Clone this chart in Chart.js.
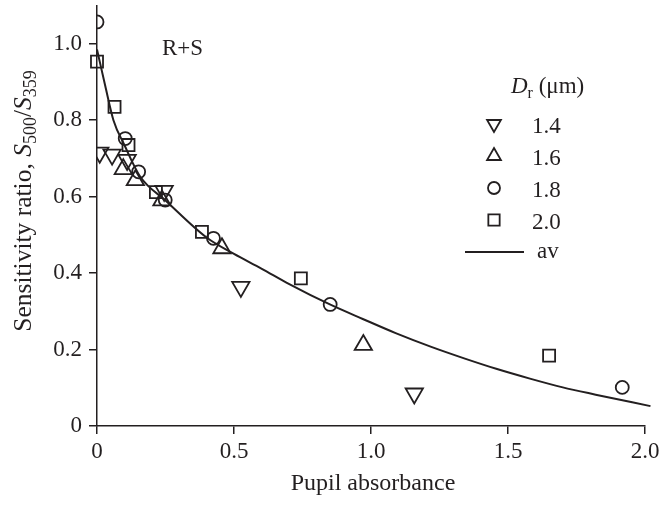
<!DOCTYPE html>
<html>
<head>
<meta charset="utf-8">
<script src="https://cdn.jsdelivr.net/npm/chart.js@4/dist/chart.umd.min.js"></script>
<style>
  html, body { margin: 0; padding: 0; background: #fff; }
  #wrap { width: 662px; height: 505px; }
</style>
</head>
<body>
<div id="wrap"><canvas id="chart" width="662" height="505"></canvas></div>
<script>
// values
const xTicks = [0, 0.5, 1.0, 1.5, 2.0];
const yTicks = [0, 0.2, 0.4, 0.6, 0.8, 1.0];

const d14x = [0.01, 0.055, 0.11, 0.245, 0.525, 1.158];
const d14y = [0.715, 0.71, 0.696, 0.615, 0.364, 0.085];

const d16x = [0.096, 0.14, 0.237, 0.456, 0.972];
const d16y = [0.672, 0.643, 0.59, 0.465, 0.212];

const d18x = [0, 0.103, 0.152, 0.249, 0.425, 0.851, 1.917];
const d18y = [1.057, 0.752, 0.665, 0.591, 0.491, 0.318, 0.101];

const d20x = [0, 0.064, 0.115, 0.215, 0.383, 0.744, 1.65];
const d20y = [0.953, 0.835, 0.735, 0.612, 0.508, 0.386, 0.184];

const avX = [0, 0.03, 0.06, 0.1, 0.158, 0.25, 0.4, 0.5, 0.6, 0.7, 0.85, 0.97, 1.09, 1.22, 1.34, 1.46, 1.58, 1.70, 1.82, 2.02];
const avY = [0.985, 0.89, 0.80, 0.735, 0.652, 0.59, 0.493, 0.45, 0.412, 0.372, 0.318, 0.28, 0.243, 0.207, 0.177, 0.149, 0.124, 0.101, 0.082, 0.052];

const ink = '#231f20';
const serif = '"Liberation Serif", "DejaVu Serif", serif';

function pts(xs, ys) {
    return xs.map((x, i) => ({ x: x, y: ys[i] }));
}

function markerSet(xs, ys, style, radius, rotation, clip) {
    return {
        data: pts(xs, ys),
        showLine: false,
        pointStyle: style,
        pointRadius: radius,
        pointRotation: rotation,
        pointBorderWidth: 1.8,
        pointBorderColor: ink,
        pointBackgroundColor: 'rgba(0,0,0,0)',
        clip: clip
    };
}

// extra text: panel label, legend, axis titles
const textPlugin = {
    id: 'texts',
    afterDraw(chart) {
        const ctx = chart.ctx;
        ctx.save();
        ctx.fillStyle = ink;
        ctx.strokeStyle = ink;

        // panel label
        ctx.font = '23px ' + serif;
        ctx.textBaseline = 'alphabetic';
        ctx.textAlign = 'left';
        ctx.fillText('R+S', 162, 55);

        // legend header
        ctx.font = 'italic 23px ' + serif;
        ctx.fillText('D', 511, 93);
        let w = ctx.measureText('D').width;
        ctx.font = '16px ' + serif;
        ctx.fillText('r', 511 + w, 98);
        let w2 = ctx.measureText('r').width;
        ctx.font = '23px ' + serif;
        ctx.fillText(' (\u03bcm)', 511 + w + w2, 93);

        // legend rows
        const rows = [
            { style: 'triangle', rot: 180, r: 8, label: '1.4', y: 124 },
            { style: 'triangle', rot: 0, r: 8, label: '1.6', y: 156 },
            { style: 'circle', rot: 0, r: 6, label: '1.8', y: 188 },
            { style: 'rect', rot: 0, r: 8, label: '2.0', y: 220 }
        ];
        ctx.textBaseline = 'middle';
        rows.forEach(row => {
            ctx.fillStyle = 'rgba(0,0,0,0)';
            Chart.helpers.drawPoint(ctx, {
                pointStyle: row.style,
                rotation: row.rot,
                radius: row.r,
                borderWidth: 2.4
            }, 494, row.y);
            ctx.fillStyle = ink;
            ctx.fillText(row.label, 532, row.y + 3);
        });

        // line entry
        ctx.lineWidth = 2;
        ctx.beginPath();
        ctx.moveTo(465, 252);
        ctx.lineTo(524, 252);
        ctx.stroke();
        ctx.fillText('av', 537, 252);

        // x title
        ctx.font = '24px ' + serif;
        ctx.textAlign = 'center';
        ctx.textBaseline = 'alphabetic';
        ctx.fillText('Pupil absorbance', 373, 490);

        // y title, rotated, with italic S and subscripts
        const parts = [
            ['Sensitivity ratio, ', '25.5px ', 0],
            ['S', 'italic 25.5px ', 0],
            ['500', '18px ', 5],
            ['/', '25.5px ', 0],
            ['S', 'italic 25.5px ', 0],
            ['359', '18px ', 5]
        ];
        let total = 0;
        parts.forEach(p => {
            ctx.font = p[1] + serif;
            total += ctx.measureText(p[0]).width;
        });
        ctx.translate(31, 201);
        ctx.rotate(-Math.PI / 2);
        ctx.textAlign = 'left';
        let cx = -total / 2;
        parts.forEach(p => {
            ctx.font = p[1] + serif;
            ctx.fillText(p[0], cx, p[2]);
            cx += ctx.measureText(p[0]).width;
        });
        ctx.restore();
    }
};

const ctx = document.getElementById('chart').getContext('2d');
const chart = new Chart(ctx, {
    type: 'scatter',
    data: {
        datasets: [
            {
                data: pts(avX, avY),
                showLine: true,
                borderColor: ink,
                borderWidth: 2,
                pointRadius: 0,
                cubicInterpolationMode: 'monotone',
                clip: false
            },
            markerSet(d14x, d14y, 'triangle', 10, 180, { left: 0, top: false, right: false, bottom: false }),
            markerSet(d16x, d16y, 'triangle', 10, 0, false),
            markerSet(d18x, d18y, 'circle', 6.5, 0, { left: 0, top: false, right: false, bottom: false }),
            markerSet(d20x, d20y, 'rect', 8.5, 0, false)
        ]
    },
    options: {
        responsive: false,
        animation: false,
        events: [],
        layout: { autoPadding: false, padding: { left: 0, right: 17, top: 5.5, bottom: 0 } },
        plugins: {
            legend: { display: false },
            tooltip: { enabled: false }
        },
        scales: {
            x: {
                type: 'linear',
                min: 0,
                max: 2.0,
                afterBuildTicks: axis => { axis.ticks = xTicks.map(v => ({ value: v })); },
                afterFit: axis => {
                    axis.height = 79;
                    axis.paddingLeft = 0;
                    axis.paddingRight = 0;
                },
                border: { display: true, color: ink, width: 1.5 },
                grid: { drawOnChartArea: false, drawTicks: true, tickLength: 8, color: ink, lineWidth: 1.5 },
                ticks: {
                    color: ink,
                    font: { family: serif, size: 23 },
                    padding: 4,
                    maxRotation: 0,
                    callback: v => v === 0 ? '0' : v.toFixed(1)
                }
            },
            y: {
                type: 'linear',
                min: 0,
                max: 1.1,
                afterBuildTicks: axis => { axis.ticks = yTicks.map(v => ({ value: v })); },
                afterFit: axis => {
                    axis.width = 97;
                    axis.paddingTop = 0;
                    axis.paddingBottom = 0;
                },
                border: { display: true, color: ink, width: 1.5 },
                grid: { drawOnChartArea: false, drawTicks: true, tickLength: 8, color: ink, lineWidth: 1.5 },
                ticks: {
                    color: ink,
                    font: { family: serif, size: 23 },
                    padding: 7,
                    callback: v => v === 0 ? '0' : v.toFixed(1)
                }
            }
        }
    },
    plugins: [textPlugin]
});
</script>
</body>
</html>
